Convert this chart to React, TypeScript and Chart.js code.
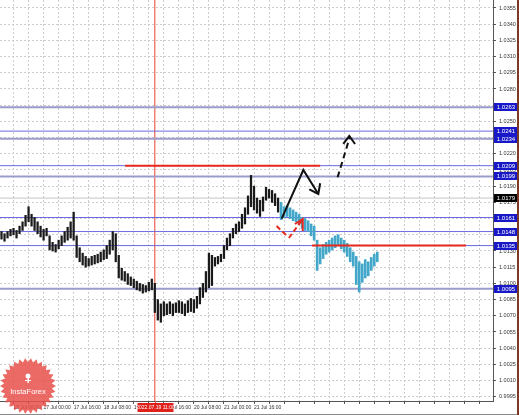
import React, { useEffect, useRef } from "react";
import { Chart, registerables } from "chart.js";
Chart.register(...registerables);

// ---------- data ----------
const HIST_HIGH = [
  1.0148, 1.0146, 1.0148, 1.0150, 1.0151, 1.0149, 1.0153, 1.0157, 1.0163, 1.0171,
  1.0164, 1.0161, 1.0157, 1.0153, 1.0150, 1.0151, 1.0144, 1.0138, 1.0136, 1.0140,
  1.0144, 1.0148, 1.0152, 1.0157, 1.0166, 1.0144, 1.0133, 1.0128, 1.0125, 1.0123,
  1.0125, 1.0126, 1.0127, 1.0129, 1.0131, 1.0135, 1.0140, 1.0148, 1.0146, 1.0126,
  1.0114, 1.0111, 1.0109, 1.0106, 1.0104, 1.0102, 1.0100, 1.0099, 1.0098, 1.0101,
  1.0104, 1.0100, 1.0085, 1.0081, 1.0083, 1.0081, 1.0083, 1.0081, 1.0082, 1.0084,
  1.0083, 1.0081, 1.0084, 1.0086, 1.0085, 1.0088, 1.0096, 1.0100, 1.0111, 1.0128,
  1.0126, 1.0124, 1.0125, 1.0127, 1.0135, 1.0142, 1.0146, 1.0151, 1.0155, 1.0157,
  1.0164, 1.0170, 1.0181, 1.0200, 1.0190, 1.0179, 1.0177, 1.0180, 1.0189, 1.0187,
  1.0186, 1.0183, 1.0179,
];
const HIST_LOW = [
  1.0141, 1.0139, 1.0142, 1.0144, 1.0145, 1.0142, 1.0146, 1.0149, 1.0153, 1.0157,
  1.0153, 1.0149, 1.0146, 1.0143, 1.0140, 1.0144, 1.0131, 1.0130, 1.0129, 1.0132,
  1.0135, 1.0138, 1.0140, 1.0142, 1.0140, 1.0124, 1.0120, 1.0117, 1.0115, 1.0116,
  1.0117, 1.0118, 1.0119, 1.0120, 1.0122, 1.0123, 1.0127, 1.0131, 1.0120, 1.0105,
  1.0103, 1.0102, 1.0099, 1.0098, 1.0096, 1.0094, 1.0093, 1.0091, 1.0092, 1.0093,
  1.0094, 1.0073, 1.0066, 1.0064, 1.0070, 1.0071, 1.0072, 1.0070, 1.0073, 1.0073,
  1.0072, 1.0070, 1.0073, 1.0074, 1.0073, 1.0077, 1.0081, 1.0087, 1.0092, 1.0096,
  1.0098, 1.0116, 1.0118, 1.0120, 1.0123, 1.0131, 1.0135, 1.0142, 1.0146, 1.0148,
  1.0151, 1.0155, 1.0164, 1.0171, 1.0168, 1.0165, 1.0162, 1.0167, 1.0177, 1.0179,
  1.0175, 1.0172, 1.0166,
];
const TEAL_START = 93;
const TEAL_HIGH = [
  1.0175, 1.0171, 1.0172, 1.0170, 1.0168, 1.0166, 1.0164, 1.0161, 1.0160, 1.0158,
  1.0155, 1.0153, 1.0140, 1.0133, 1.0136, 1.0138, 1.0140, 1.0142, 1.0144, 1.0145,
  1.0142, 1.0140, 1.0137, 1.0133, 1.0129, 1.0125, 1.0120, 1.0118, 1.0122, 1.0120,
  1.0124, 1.0127, 1.0129,
];
const TEAL_LOW = [
  1.0159, 1.0161, 1.0162, 1.0160, 1.0158, 1.0157, 1.0155, 1.0151, 1.0149, 1.0148,
  1.0144, 1.0140, 1.0112, 1.0118, 1.0123, 1.0127, 1.0129, 1.0131, 1.0133, 1.0135,
  1.0132, 1.0129, 1.0125, 1.0120, 1.0116, 1.0099, 1.0092, 1.0101, 1.0105, 1.0107,
  1.0112, 1.0116, 1.0120,
];
const SLOT_MIN = -0.5;
const SLOT_MAX = 163.5;
const Y_MIN = 0.99911;
const Y_MAX = 1.03624;
const Y_TICKS = [
  0.9995, 1.001, 1.0025, 1.004, 1.0055, 1.007, 1.0085, 1.01, 1.0115, 1.013,
  1.0145, 1.016, 1.0175, 1.019, 1.0205, 1.022, 1.0235, 1.025, 1.0265, 1.028,
  1.0295, 1.031, 1.0325, 1.034, 1.0355,
];
const X_GRID = [
  4, 9, 14, 19, 24, 29, 34, 39, 44, 49, 54, 59, 64, 69, 74, 79, 84, 89, 94, 99,
  104, 109, 114, 119, 124, 129, 134, 139, 144, 149, 154, 159,
];
const X_LABEL_SLOTS = [4, 14, 24, 34, 44, 54, 64, 74, 84];
const X_LABELS = [
  "15 Jul 08:00", "17 Jul 00:00", "17 Jul 16:00", "18 Jul 08:00", "19 Jul 00:00",
  "19 Jul 16:00", "20 Jul 08:00", "21 Jul 00:00", "21 Jul 16:00",
];
const LEVELS = [1.0263, 1.0241, 1.0234, 1.0209, 1.0199, 1.0161, 1.0148, 1.0135, 1.0095];
const BID = 1.0179;
const RED_LEVELS = [1.0209, 1.0135];
const RED_FROM = [41.1, 103.3];
const RED_TO = [106.0, 154.5];
const CURSOR_SLOT = 51;
const CURSOR_LABEL = "2022.07.19 11:00";
const SOLID_X = [93.2, 100.4, 105.4];
const SOLID_Y = [1.016, 1.0205, 1.01828];
const SOLID_HEAD_X = [102.4, 105.4, 106.0];
const SOLID_HEAD_Y = [1.01871, 1.01828, 1.01927];
const DASH_X = [111.8, 115.9];
const DASH_Y = [1.01982, 1.02358];
const DASH_HEAD_X = [113.7, 115.7, 117.6];
const DASH_HEAD_Y = [1.02291, 1.02365, 1.02291];
const RED1_X = [91.5, 95.0];
const RED1_Y = [1.01531, 1.01439];
const RED2_X = [95.6, 100.2];
const RED2_Y = [1.0142, 1.01596];
const RED_HEAD_X = [97.6, 100.2, 100.2];
const RED_HEAD_Y = [1.0155, 1.01596, 1.01485];

// ---------- styles ----------
const LEVEL_COLORS = ["#9c9ccc", "#6a6ae0", "#9c9ccc", "#6a6ae0", "#9c9ccc", "#6a6ae0", "#6a6ae0", "#6a6ae0", "#9c9ccc"];
const LEVEL_WIDTHS = [2, 1, 2, 1, 2, 1, 1, 1, 2];
const FONT = '"Liberation Sans", Arial, sans-serif';

const pts = (xs: number[], ys: number[]) => xs.map((x, i) => ({ x, y: ys[i] }));

const lineDs = (data: any[], color: string, width: number, dash: number[] = [], order = 1) => ({
  type: "line" as const,
  data,
  borderColor: color,
  borderWidth: width,
  borderDash: dash,
  pointRadius: 0,
  fill: false,
  tension: 0,
  order,
});

const overlay = {
  id: "overlay",
  afterDraw(chart: any) {
    const { ctx, chartArea } = chart;
    const x = chart.scales.x;
    const y = chart.scales.y;
    ctx.save();
    ctx.textAlign = "center";
    ctx.textBaseline = "middle";
    ctx.font = `6px ${FONT}`;
    const boxes = LEVELS.map((v) => ({ v, c: "#1818c8" })).concat([{ v: BID, c: "#000000" }]);
    boxes.forEach((b) => {
      const py = Math.round(y.getPixelForValue(b.v));
      ctx.fillStyle = b.c;
      ctx.fillRect(chartArea.right + 1, py - 4, 24, 8);
      ctx.fillStyle = "#ffffff";
      ctx.fillText(b.v.toFixed(4), chartArea.right + 13, py + 0.5);
    });
    const cx = Math.round(x.getPixelForValue(CURSOR_SLOT)) + 0.5;
    ctx.strokeStyle = "#e8402a";
    ctx.lineWidth = 1;
    ctx.beginPath();
    ctx.moveTo(cx, chartArea.bottom);
    ctx.lineTo(cx, chartArea.bottom + 2);
    ctx.stroke();
    ctx.fillStyle = "#e0201a";
    ctx.fillRect(cx - 18, chartArea.bottom + 2, 36, 9);
    ctx.fillStyle = "#ffffff";
    ctx.font = `5px ${FONT}`;
    ctx.fillText(CURSOR_LABEL, cx, chartArea.bottom + 6.5);
    // logo
    const lx = 28, ly = 386, R = 28, r = 24, n = 30;
    ctx.beginPath();
    for (let k = 0; k < 2 * n; k++) {
      const a = (k * Math.PI) / n;
      const rad = k % 2 ? r : R;
      ctx.lineTo(lx + rad * Math.cos(a), ly + rad * Math.sin(a));
    }
    ctx.closePath();
    ctx.fillStyle = "rgba(232,80,74,0.85)";
    ctx.fill();
    ctx.fillStyle = "#ffffff";
    ctx.beginPath();
    ctx.arc(lx, ly - 10, 2.5, 0, Math.PI * 2);
    ctx.fill();
    ctx.fillRect(lx - 0.5, ly - 8, 1.5, 5);
    ctx.fillRect(lx - 3, ly - 6, 6, 1);
    ctx.font = `7.5px ${FONT}`;
    ctx.fillText("InstaForex", lx, ly + 6);
    ctx.fillStyle = "#8a8a8a";
    ctx.fillRect(0, 414, 517, 1);
    ctx.fillStyle = "#7a3b22";
    ctx.fillRect(517, 0, 2, 415);
    ctx.restore();
  },
};

export default function App() {
  const ref = useRef<HTMLCanvasElement>(null);
  useEffect(() => {
    const datasets: any[] = [];
    LEVELS.forEach((lv, i) => {
      datasets.push(lineDs([{ x: SLOT_MIN, y: lv }, { x: SLOT_MAX, y: lv }], LEVEL_COLORS[i], LEVEL_WIDTHS[i], [], 6));
    });
    datasets.push(lineDs([{ x: SLOT_MIN, y: BID }, { x: SLOT_MAX, y: BID }], "#c4c4c4", 1, [], 6));
    datasets.push(lineDs([{ x: CURSOR_SLOT, y: Y_MIN }, { x: CURSOR_SLOT, y: Y_MAX }], "#e8402a", 1, [], 6));
    datasets.push({
      type: "bar",
      data: HIST_HIGH.map((h, i) => ({ x: i, y: [HIST_LOW[i], h] })),
      backgroundColor: "#1a1a1a",
      barThickness: 1.6,
      grouped: false,
      order: 4,
    });
    datasets.push({
      type: "bar",
      data: TEAL_HIGH.map((h, i) => ({ x: TEAL_START + i, y: [TEAL_LOW[i], h] })),
      backgroundColor: "#42a7c9",
      barThickness: 2,
      grouped: false,
      order: 4,
    });
    RED_LEVELS.forEach((lv, i) => {
      datasets.push(lineDs([{ x: RED_FROM[i], y: lv }, { x: RED_TO[i], y: lv }], "#e8281e", 2, [], 3));
    });
    datasets.push(lineDs(pts(SOLID_X, SOLID_Y), "#111111", 2, [], 1));
    datasets.push(lineDs(pts(SOLID_HEAD_X, SOLID_HEAD_Y), "#111111", 2, [], 1));
    datasets.push(lineDs(pts(DASH_X, DASH_Y), "#111111", 2, [6, 4], 1));
    datasets.push(lineDs(pts(DASH_HEAD_X, DASH_HEAD_Y), "#111111", 2, [], 1));
    datasets.push(lineDs(pts(RED1_X, RED1_Y), "#e8281e", 2, [5, 3], 1));
    datasets.push(lineDs(pts(RED2_X, RED2_Y), "#e8281e", 2, [5, 3], 1));
    datasets.push(lineDs(pts(RED_HEAD_X, RED_HEAD_Y), "#e8281e", 2, [], 1));

    const chart = new Chart(ref.current as HTMLCanvasElement, {
      type: "bar",
      data: { datasets },
      options: {
        animation: false,
        responsive: true,
        maintainAspectRatio: false,
        layout: { padding: 0 },
        plugins: { legend: { display: false }, tooltip: { enabled: false } },
        scales: {
          x: {
            type: "linear",
            min: SLOT_MIN,
            max: SLOT_MAX,
            offset: false,
            grid: { offset: false, color: "#cdcdcd", tickLength: 3, tickColor: "#555", drawTicks: true },
            border: { display: true, color: "#555", width: 1, dash: [2, 2] },
            afterBuildTicks: (s: any) => {
              s.ticks = X_GRID.map((v) => ({ value: v }));
            },
            afterFit: (s: any) => {
              s.height = 14;
              s.paddingLeft = 0;
              s.paddingRight = 0;
            },
            ticks: {
              autoSkip: false,
              maxRotation: 0,
              minRotation: 0,
              align: "start",
              padding: 1,
              color: "#333",
              font: { family: FONT, size: 5 },
              callback: (v: any) => {
                const k = X_LABEL_SLOTS.indexOf(Number(v));
                return k >= 0 ? X_LABELS[k] : "";
              },
            },
          },
          y: {
            type: "linear",
            position: "right",
            min: Y_MIN,
            max: Y_MAX,
            grid: { color: "#cdcdcd", tickLength: 3, tickColor: "#555", drawTicks: true },
            border: { display: true, color: "#555", width: 1, dash: [2, 2] },
            afterBuildTicks: (s: any) => {
              s.ticks = Y_TICKS.map((v) => ({ value: v }));
            },
            afterFit: (s: any) => {
              s.width = 26;
              s.paddingTop = 0;
              s.paddingBottom = 0;
            },
            ticks: {
              padding: 3,
              color: "#333",
              font: { family: FONT, size: 5.5 },
              callback: (v: any) => Number(v).toFixed(4),
            },
          },
        },
      } as any,
      plugins: [overlay],
    } as any);
    return () => chart.destroy();
  }, []);
  return (
    <div style={{ position: "fixed", left: 0, top: 0, width: 519, height: 415, background: "#fff" }}>
      <canvas ref={ref} />
    </div>
  );
}
